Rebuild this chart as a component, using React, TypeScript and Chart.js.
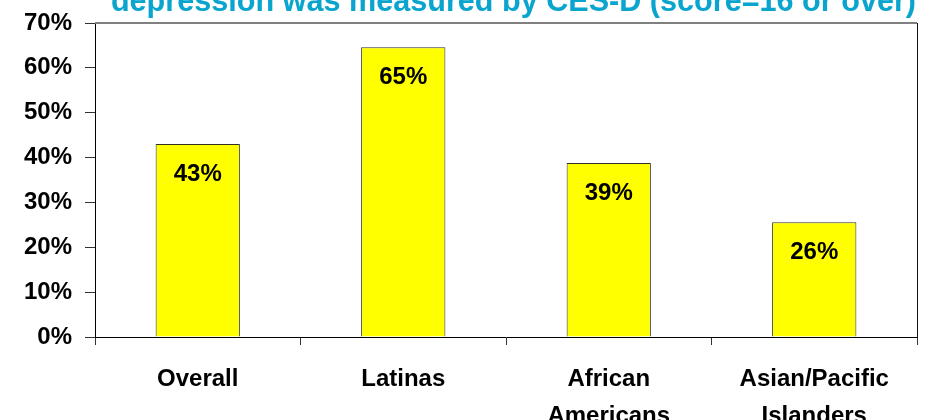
import React, { useEffect, useRef } from "react";
import { Chart, registerables } from "chart.js";

Chart.register(...registerables);

const titleText = "depression was measured by CES-D (score=16 or over)";
const categories: (string | string[])[] = ["Overall", "Latinas", ["African", "Americans"], ["Asian/Pacific", "Islanders"]];
const values = [43, 64.6, 38.8, 25.6];
const valueLabels = ["43%", "65%", "39%", "26%"];
const yMax = 70;
const yStep = 10;

const FONT = "'Liberation Sans', Arial, sans-serif";

const decorPlugin = {
  id: "decor",
  afterDatasetsDraw(chart: any) {
    const { ctx, chartArea } = chart;
    ctx.save();
    ctx.strokeStyle = "#808080";
    ctx.lineWidth = 2;
    ctx.beginPath();
    ctx.moveTo(chartArea.left, chartArea.top);
    ctx.lineTo(chartArea.right, chartArea.top);
    ctx.stroke();
    ctx.strokeStyle = "#111";
    ctx.lineWidth = 1;
    ctx.beginPath();
    ctx.moveTo(chartArea.right + 0.5, chartArea.top);
    ctx.lineTo(chartArea.right + 0.5, chartArea.bottom);
    ctx.stroke();
    const meta = chart.getDatasetMeta(0);
    ctx.fillStyle = "#000";
    ctx.font = `bold 24px ${FONT}`;
    ctx.textAlign = "center";
    ctx.textBaseline = "alphabetic";
    meta.data.forEach((bar: any, i: number) => {
      ctx.fillText(valueLabels[i], bar.x, bar.y + 37);
    });
    ctx.fillStyle = "#0AA5CF";
    ctx.font = `bold 30.6px ${FONT}`;
    ctx.textAlign = "right";
    ctx.fillText(titleText, chartArea.right - 1, chartArea.top - 12);
    ctx.restore();
  },
};

export default function App() {
  const ref = useRef<HTMLCanvasElement | null>(null);
  useEffect(() => {
    if (!ref.current) return;
    const chart = new Chart(ref.current, {
      type: "bar",
      data: {
        labels: categories,
        datasets: [
          {
            data: values,
            backgroundColor: "#FFFF00",
            borderColor: "#303028",
            borderWidth: 1,
            categoryPercentage: 1,
            barPercentage: 0.41,
          },
        ],
      },
      options: {
        animation: false,
        responsive: false,
        devicePixelRatio: 1,
        layout: { padding: { top: 23, right: 13, left: 0, bottom: 0 } },
        plugins: { legend: { display: false }, tooltip: { enabled: false }, title: { display: false } },
        scales: {
          x: {
            grid: { offset: true, drawOnChartArea: false, drawTicks: true, tickLength: 8, color: "#333" },
            border: { color: "#000", width: 1 },
            ticks: {
              color: "#000",
              font: { family: FONT, size: 24, weight: "bold", lineHeight: 1.55 },
              padding: 16,
              maxRotation: 0,
              autoSkip: false,
            },
            afterFit: (s: any) => {
              s.height = 83;
            },
          },
          y: {
            min: 0,
            max: yMax,
            grid: { drawOnChartArea: false, drawTicks: true, tickLength: 10, color: "#333" },
            border: { color: "#000", width: 1 },
            ticks: {
              stepSize: yStep,
              color: "#000",
              font: { family: FONT, size: 24, weight: "bold", lineHeight: 1 },
              padding: 13,
              callback: (v: any) => `${v}%`,
            },
            afterFit: (s: any) => {
              s.width = 95;
              s.paddingTop = 0;
              s.paddingBottom = 0;
            },
          },
        },
      },
      plugins: [decorPlugin],
    });
    return () => chart.destroy();
  }, []);
  return (
    <div style={{ position: "fixed", left: 0, top: 0, width: 930, height: 420, background: "#fff" }}>
      <canvas ref={ref} width={930} height={420} style={{ display: "block" }} />
    </div>
  );
}
